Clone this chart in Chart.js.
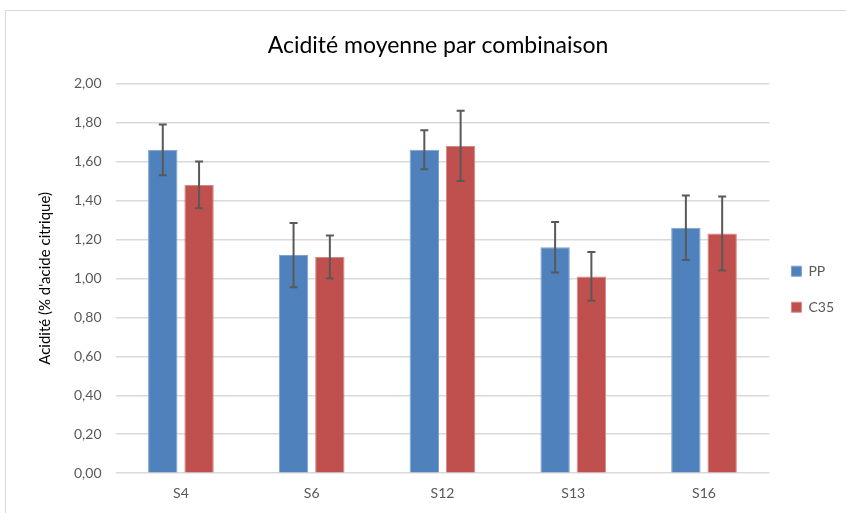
<!DOCTYPE html>
<html>
<head>
<meta charset="utf-8">
<script src="https://cdn.jsdelivr.net/npm/chart.js@4"></script>
<style>
  html, body { margin: 0; padding: 0; background: #fff; overflow: hidden; }
  #wrap { position: relative; width: 846px; height: 513px; }
  #frame { position: absolute; left: 5px; top: 10px; width: 900px; height: 600px; border: 1px solid #d9d9d9; pointer-events: none; }
</style>
</head>
<body>
<div id="wrap">
  <canvas id="chart" width="846" height="513"></canvas>
  <div id="frame"></div>
</div>
<script>
// Data
const categories = ['S4', 'S6', 'S12', 'S13', 'S16'];
const ppValues = [1.66, 1.12, 1.66, 1.16, 1.26];
const c35Values = [1.48, 1.11, 1.68, 1.01, 1.23];
const ppErrors = [0.13, 0.165, 0.10, 0.13, 0.165];
const c35Errors = [0.12, 0.11, 0.18, 0.125, 0.19];
const yMin = 0, yMax = 2, yStep = 0.2;

const FONT = 'Lato';

// Error bars drawn from the y scale
const errorBars = {
    id: 'errorBars',
    afterDatasetsDraw(chart) {
        const ctx = chart.ctx;
        const y = chart.scales.y;
        ctx.save();
        ctx.strokeStyle = '#595959';
        ctx.lineWidth = 2;
        chart.data.datasets.forEach((ds, i) => {
            const meta = chart.getDatasetMeta(i);
            meta.data.forEach((bar, j) => {
                const v = ds.data[j], e = ds.errors[j];
                const top = y.getPixelForValue(v + e);
                const bot = y.getPixelForValue(v - e);
                ctx.beginPath();
                ctx.moveTo(bar.x, top); ctx.lineTo(bar.x, bot);
                ctx.moveTo(bar.x - 4, top); ctx.lineTo(bar.x + 4, top);
                ctx.moveTo(bar.x - 4, bot); ctx.lineTo(bar.x + 4, bot);
                ctx.stroke();
            });
        });
        ctx.restore();
    }
};

new Chart(document.getElementById('chart').getContext('2d'), {
    type: 'bar',
    data: {
        labels: categories,
        datasets: [
            {
                label: 'PP',
                data: ppValues,
                errors: ppErrors,
                backgroundColor: '#4f81bd',
                borderColor: '#7ea1d0',
                borderWidth: 1
            },
            {
                label: 'C35',
                data: c35Values,
                errors: c35Errors,
                backgroundColor: '#c0504d',
                borderColor: '#d58987',
                borderWidth: 1
            }
        ]
    },
    options: {
        responsive: false,
        animation: false,
        devicePixelRatio: 1,
        categoryPercentage: 0.555,
        barPercentage: 0.81,
        layout: { padding: { left: 32, right: 2, top: 24, bottom: 7 } },
        scales: {
            x: {
                grid: { display: false },
                border: { display: false },
                ticks: { color: '#595959', font: { family: FONT, size: 14 }, padding: 4 }
            },
            y: {
                min: yMin, max: yMax,
                ticks: {
                    stepSize: yStep,
                    color: '#595959',
                    font: { family: FONT, size: 14 },
                    padding: 14,
                    callback: v => v.toFixed(2).replace('.', ',')
                },
                grid: { color: '#d9d9d9', lineWidth: 1.5, drawTicks: false },
                border: { display: false },
                title: {
                    display: true,
                    text: "Acidité (% d'acide citrique)",
                    color: '#000',
                    font: { family: FONT, size: 15 },
                    padding: { bottom: 6 }
                }
            }
        },
        plugins: {
            title: {
                display: true,
                text: 'Acidité moyenne par combinaison',
                color: '#000',
                font: { family: FONT, size: 23, weight: 'normal' },
                padding: { top: 8, bottom: 24 }
            },
            legend: {
                position: 'right',
                title: {
                    display: true,
                    text: ' ',
                    font: { family: FONT, size: 12 },
                    padding: { top: 0, bottom: 34 }
                },
                labels: {
                    boxWidth: 10,
                    boxHeight: 10,
                    padding: 22,
                    color: '#595959',
                    font: { family: FONT, size: 14 }
                }
            },
            tooltip: { enabled: false }
        }
    },
    plugins: [errorBars]
});
</script>
</body>
</html>
